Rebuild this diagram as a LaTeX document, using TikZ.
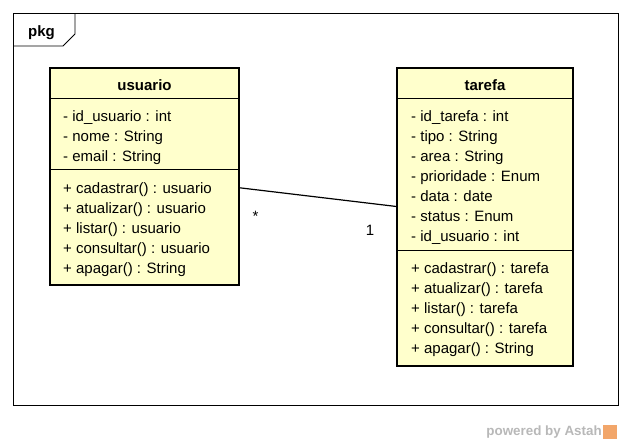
\documentclass[tikz,border=0pt]{standalone}
\usepackage{fontspec}
\setmainfont{Liberation Sans}
\definecolor{classfill}{HTML}{FFFFCC}
\definecolor{astahgray}{HTML}{B8B8B8}
\definecolor{astahorange}{HTML}{F2A66A}

\begin{document}
\begin{tikzpicture}[x=1pt,y=-1pt,
    classbox/.style={draw, line width=2.5pt, fill=classfill, inner sep=0pt},
    member/.style={anchor=base west, inner sep=0pt, font=\fontsize{15}{17}\selectfont},
    title/.style={anchor=base, inner sep=0pt, font=\fontsize{15}{17}\selectfont\bfseries}]
    \useasboundingbox (0,0) rectangle (632,445);
    \draw[line width=0.8pt] (13,13) rectangle (618,405);
    \draw[line width=0.8pt] (13,46) -- (63,46) -- (75,34) -- (75,13);
    \node[title] (pkg) at (41.5,36) {pkg};
    \node[classbox, minimum width=189pt, minimum height=217pt] (usuario) at (144.5,176.5) {};
    \node[classbox, minimum width=176pt, minimum height=298pt] (tarefa) at (485,217) {};
    \draw (50,98) -- (239,98) (50,169) -- (239,169);
    \draw (397,98) -- (573,98) (397,250) -- (573,250);
    \node[title] (usuario-name) at (144.5,90.5) {usuario};
    \node[title] (tarefa-name) at (485,90.5) {tarefa};
    \foreach \txt [count=\i] in {- id\_usuario : int, - nome : String, - email : String}
      \node[member] (usuario-a\i) at (63,101.5+20*\i) {\txt};
    \foreach \txt [count=\i] in {+ cadastrar() : usuario, + atualizar() : usuario,
        + listar() : usuario, + consultar() : usuario, + apagar() : String}
      \node[member] (usuario-m\i) at (63,173+20*\i) {\txt};
    \foreach \txt [count=\i] in {- id\_tarefa : int, - tipo : String, - area : String,
        - prioridade : Enum, - data : date, - status : Enum, - id\_usuario : int}
      \node[member] (tarefa-a\i) at (411,101.5+20*\i) {\txt};
    \foreach \txt [count=\i] in {+ cadastrar() : tarefa, + atualizar() : tarefa,
        + listar() : tarefa, + consultar() : tarefa, + apagar() : String}
      \node[member] (tarefa-m\i) at (411,253.5+20*\i) {\txt};
    \draw[line width=1.2pt, shorten <=-1pt, shorten >=-1pt] (usuario) -- (tarefa);
    \node[member, anchor=base] (mult-u) at (255.5,221) {*};
    \node[member, anchor=base] (mult-t) at (370,235) {1};
    \node[inner sep=0pt, anchor=east, text=astahgray, font=\fontsize{13.4}{14}\selectfont\bfseries]
      (powered) at (602,432) {powered by Astah};
    \node[fill=astahorange, minimum size=14pt, inner sep=0pt, anchor=west] (logo) at (603,432) {};
\end{tikzpicture}
\end{document}
